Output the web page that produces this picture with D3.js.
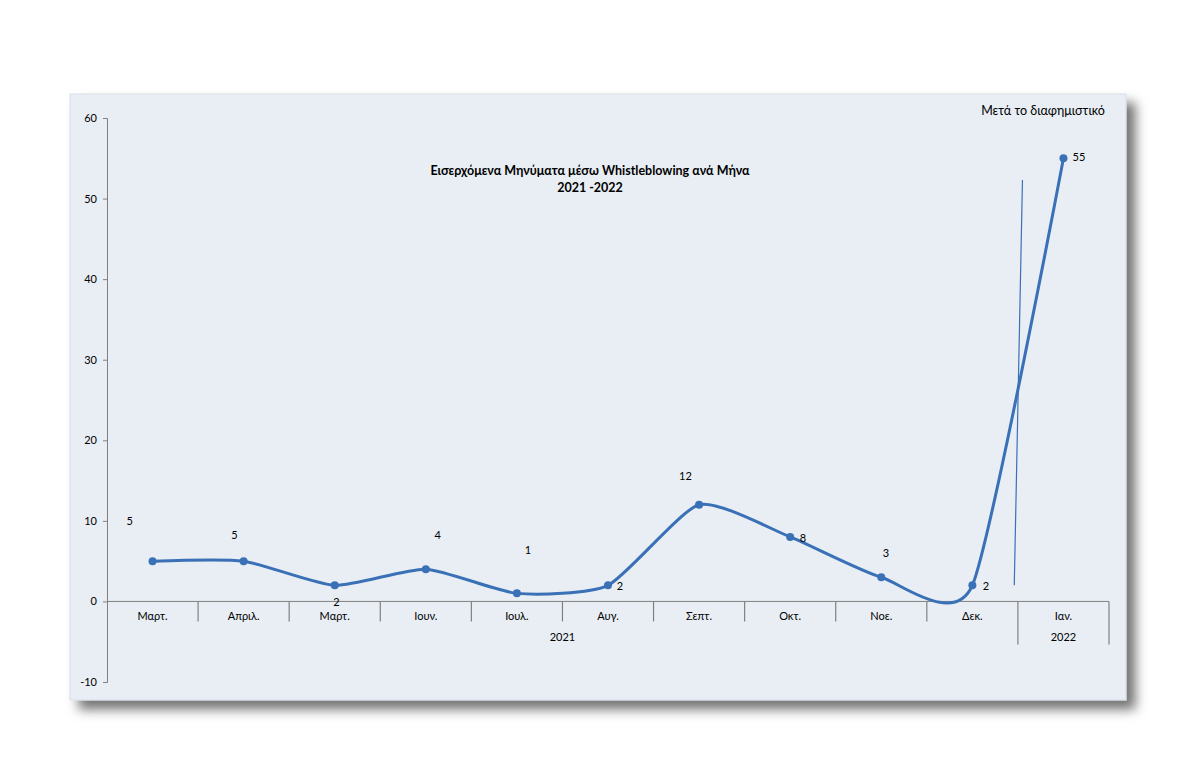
<!DOCTYPE html>
<html><head><meta charset="utf-8">
<script src="https://cdn.jsdelivr.net/npm/d3@7"></script>
<style>html,body{margin:0;padding:0;background:#fff;}svg{display:block;}</style>
</head><body>
<script>
const months = ["Μαρτ.","Απριλ.","Μαρτ.","Ιουν.","Ιουλ.","Αυγ.","Σεπτ.","Οκτ.","Νοε.","Δεκ.","Ιαν."];
const values = [5,5,2,4,1,2,12,8,3,2,55];
const years = [{label:"2021", from:0, to:9},{label:"2022", from:10, to:10}];
const yTicks = [-10,0,10,20,30,40,50,60];
// label offsets (in value units / category units) as placed on the original
const labelPos = [{dx:-0.25,v:10},{dx:-0.1,v:8.3},{dx:0.02,v:-0.1},{dx:0.13,v:8.3},{dx:0.12,v:6.4},{dx:0.13,v:1.9},{dx:-0.15,v:15.6},{dx:0.14,v:7.9},{dx:0.05,v:6.0},{dx:0.15,v:1.9},{dx:0.17,v:55.2}];
const titleLines = ["Εισερχόμενα Μηνύματα μέσω Whistleblowing ανά Μήνα","2021 -2022"];
const noteText = "Μετά το διαφημιστικό";
const markerLine = [{i:9.55,v:52.3},{i:9.46,v:2}];

const W=1200,H=764;
const svg=d3.select("body").append("svg").attr("width",W).attr("height",H);
const defs=svg.append("defs");
const f=defs.append("filter").attr("id","sh").attr("x","-5%").attr("y","-5%").attr("width","115%").attr("height","120%");
f.append("feDropShadow").attr("dx",9).attr("dy",9).attr("stdDeviation",6).attr("flood-color","#000").attr("flood-opacity",0.55);

svg.append("rect").attr("x",70).attr("y",94).attr("width",1056).attr("height",606)
  .attr("fill","#e8eef4").attr("stroke","#d6dde5").attr("filter","url(#sh)");

const font="Lato, 'Open Sans', sans-serif";
const x0=107, x1=1109;
const band=d3.scaleBand().domain(d3.range(months.length)).range([x0,x1]).paddingInner(0).paddingOuter(0);
const xi=d3.scaleLinear().domain([0,months.length-1]).range([x0+band.bandwidth()/2, x1-band.bandwidth()/2]);
const y=d3.scaleLinear().domain([-10,60]).range([682,118]);
const axisCol="#808080";

// y axis
const ya=svg.append("g").attr("transform",`translate(${x0},0)`).call(d3.axisLeft(y).tickValues(yTicks).tickSize(4).tickPadding(6).tickFormat(d=>String(d)));
ya.select(".domain").attr("stroke",axisCol);
ya.selectAll(".tick line").attr("stroke",axisCol);
ya.selectAll("text").attr("font-family",font).attr("font-size",11).attr("fill","#000");

// x axis at zero
svg.append("line").attr("x1",x0).attr("x2",x1).attr("y1",y(0)).attr("y2",y(0)).attr("stroke",axisCol);
const bounds=d3.range(months.length+1).map(i=>i<months.length?band(i):x1);
bounds.forEach((bx,i)=>{
  const tall = (i===10||i===11);
  if(i===0) return;
  svg.append("line").attr("x1",bx).attr("x2",bx).attr("y1",y(0)).attr("y2",y(0)+(tall?43:20)).attr("stroke",axisCol).attr("stroke-width",1.2);
});
svg.selectAll(".mlab").data(months).join("text").attr("x",(d,i)=>xi(i)).attr("y",y(0)+19)
  .attr("text-anchor","middle").attr("font-family",font).attr("font-size",11).text(d=>d);
svg.selectAll(".ylab").data(years).join("text").attr("x",d=>(band(d.from)+band(d.to)+band.bandwidth())/2)
  .attr("y",y(0)+40).attr("text-anchor","middle").attr("font-family",font).attr("font-size",11).text(d=>d.label);

// line
const col="#3a70b6";
const line=d3.line().x((d,i)=>xi(i)).y(d=>y(d)).curve(d3.curveCardinal.tension(0.4));
svg.append("path").datum(values).attr("d",line).attr("fill","none").attr("stroke",col).attr("stroke-width",3);
svg.selectAll(".pt").data(values).join("circle").attr("cx",(d,i)=>xi(i)).attr("cy",d=>y(d)).attr("r",4).attr("fill",col);

// thin marker line
svg.append("path").datum(markerLine).attr("d",d3.line().x(d=>xi(d.i)).y(d=>y(d.v))).attr("stroke",col).attr("stroke-width",1.2).attr("fill","none");

// data labels
svg.selectAll(".dl").data(values).join("text")
  .attr("x",(d,i)=>xi(i+labelPos[i].dx)).attr("y",(d,i)=>y(labelPos[i].v)+4)
  .attr("text-anchor","middle").attr("font-family",font).attr("font-size",11).text(d=>d);

// title
svg.selectAll(".tt").data(titleLines).join("text").attr("x",590).attr("y",(d,i)=>175+i*17)
  .attr("text-anchor","middle").attr("font-family",font).attr("font-weight","bold").attr("font-size",12.5).text(d=>d);
svg.append("text").attr("x",1043).attr("y",115).attr("text-anchor","middle").attr("font-family",font).attr("font-size",12.5).text(noteText);
</script>
</body></html>
